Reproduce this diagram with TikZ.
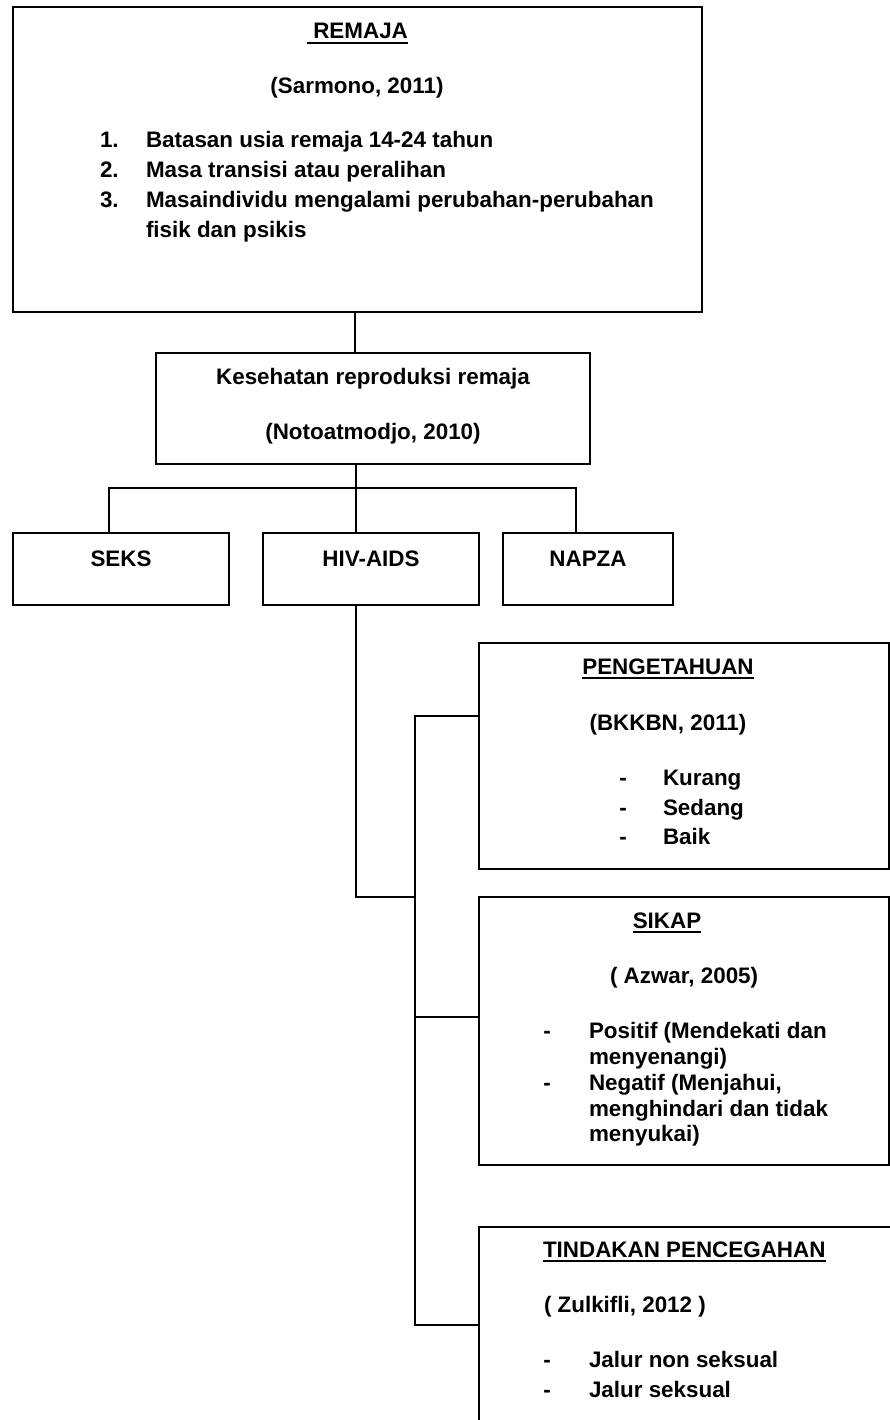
\documentclass[tikz,border=0pt]{standalone}
\usepackage{fontspec}
\setmainfont{Liberation Sans}
\newcommand\myul[1]{\setbox0=\hbox{#1}\leavevmode\rlap{\rule[-5pt]{\wd0}{2pt}}\box0}
\begin{document}
\begin{tikzpicture}[x=1pt,y=-1pt,line width=1.8pt,
  box/.style={draw,line width=1.8pt,inner sep=0pt,outer sep=0pt},
  txt/.style={inner sep=0pt,outer sep=0pt,font=\bfseries\fontsize{22.4}{26}\selectfont},
  conn/.style={draw,line width=1.8pt}]
\useasboundingbox (0,0) rectangle (890,1420);
\clip (0,0) rectangle (890,1420);
\fill[white] (0,0) rectangle (890,1420);
% boxes
\node[box,minimum width=689pt,minimum height=305pt] (top) at (357.5,159.5) {};
\node[box,minimum width=434pt,minimum height=111pt] (kes) at (373,408.5) {};
\node[box,minimum width=216pt,minimum height=72pt] (seks) at (121,569) {};
\node[box,minimum width=216pt,minimum height=72pt] (hiv) at (371,569) {};
\node[box,minimum width=170pt,minimum height=72pt] (napza) at (588,569) {};
\node[box,minimum width=410pt,minimum height=226pt] (peng) at (684,756) {};
\node[box,minimum width=410pt,minimum height=268pt] (sikap) at (684,1031) {};
\node[box,minimum width=430pt,minimum height=215pt] (tind) at (694,1334.5) {};
% connector coordinates
\coordinate (c1) at (355,330);
\coordinate (bar) at (356,488);
\coordinate (bl) at (109,488);
\coordinate (br) at (576,488);
\coordinate (hv) at (356,897);
\coordinate (tr) at (415,897);
\coordinate (t1) at (415,716);
\coordinate (t2) at (415,1017);
\coordinate (t3) at (415,1325);
% connectors
\draw[conn] (top.south -| c1) -- (kes.north -| c1);
\draw[conn] (kes.south -| bar) -- (bar) -- (hiv.north -| bar);
\draw[conn] (seks.north -| bl) -- (bl) -- (br) -- (napza.north -| br);
\draw[conn] (hiv.south -| hv) -- (hv) -- (tr);
\draw[conn] (peng.west |- t1) -- (t1) -- (t3) -- (tind.west |- t3);
\draw[conn] (t2) -- (sikap.west |- t2);
% top box text
\node[txt,anchor=base] (remaja) at (357.5,39) {\myul{\ REMAJA}};
\node[txt,anchor=base] (sarmono) at (357,94) {(Sarmono, 2011)};
\node[txt,anchor=base west] (n1) at (100,148) {1.};
\node[txt,anchor=base west] (n2) at (100,178) {2.};
\node[txt,anchor=base west] (n3) at (100,208) {3.};
\node[txt,anchor=base west] (l1) at (146,148) {Batasan usia remaja 14-24 tahun};
\node[txt,anchor=base west] (l2) at (146,178) {Masa transisi atau peralihan};
\node[txt,anchor=base west] (l3) at (146,208) {Masaindividu mengalami perubahan-perubahan};
\node[txt,anchor=base west] (l4) at (146,238) {fisik dan psikis};
% kesehatan
\node[txt,anchor=base] (kes1) at (373,384) {Kesehatan reproduksi remaja};
\node[txt,anchor=base] (kes2) at (373,439) {(Notoatmodjo, 2010)};
% three boxes
\node[txt,anchor=base] (seksT) at (121,566) {SEKS};
\node[txt,anchor=base] (hivT) at (371,566) {HIV-AIDS};
\node[txt,anchor=base] (napzaT) at (588,566) {NAPZA};
% pengetahuan
\node[txt,anchor=base] (pengT) at (668,674) {\myul{PENGETAHUAN}};
\node[txt,anchor=base] (bkkbn) at (668,730) {(BKKBN, 2011)};
\node[txt,anchor=base] (pd1) at (623,785) {-};
\node[txt,anchor=base] (pd2) at (623,815) {-};
\node[txt,anchor=base] (pd3) at (623,844) {-};
\node[txt,anchor=base west] (p1) at (663,785) {Kurang};
\node[txt,anchor=base west] (p2) at (663,815) {Sedang};
\node[txt,anchor=base west] (p3) at (663,844) {Baik};
% sikap
\node[txt,anchor=base] (sikapT) at (667,928) {\myul{SIKAP}};
\node[txt,anchor=base west] (azwar) at (610,983) {( Azwar, 2005)};
\node[txt,anchor=base] (sd1) at (547,1038) {-};
\node[txt,anchor=base] (sd2) at (547,1090) {-};
\node[txt,anchor=base west] (s1) at (589,1038) {Positif (Mendekati dan};
\node[txt,anchor=base west] (s2) at (589,1064) {menyenangi)};
\node[txt,anchor=base west] (s3) at (589,1090) {Negatif (Menjahui,};
\node[txt,anchor=base west] (s4) at (589,1116) {menghindari dan tidak};
\node[txt,anchor=base west] (s5) at (589,1141) {menyukai)};
% tindakan
\node[txt,anchor=base west] (tindT) at (543,1257) {\myul{TINDAKAN PENCEGAHAN}};
\node[txt,anchor=base west] (zulk) at (544,1312) {( Zulkifli, 2012 )};
\node[txt,anchor=base] (td1) at (547,1367) {-};
\node[txt,anchor=base] (td2) at (547,1397) {-};
\node[txt,anchor=base west] (j1) at (589,1367) {Jalur non seksual};
\node[txt,anchor=base west] (j2) at (589,1397) {Jalur seksual};
\end{tikzpicture}
\end{document}
